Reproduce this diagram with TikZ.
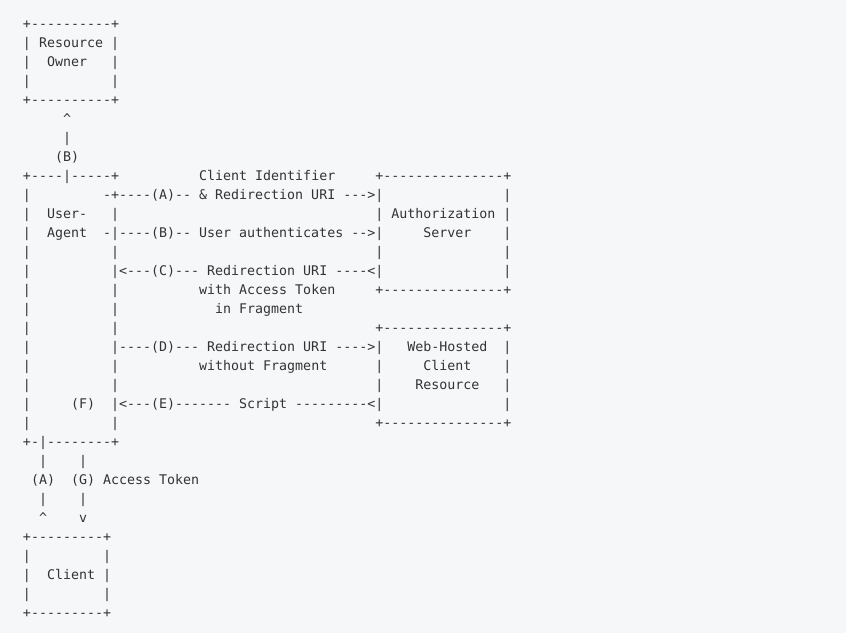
\documentclass[tikz,border=0pt]{standalone}
\usepackage{fontspec}
\setmonofont{DejaVu Sans Mono}
\definecolor{bg}{HTML}{F6F7F9}
\definecolor{ink}{HTML}{333333}
\newcommand\bl[1]{\hspace*{#1\fontcharwd\font`\x}}
\begin{document}
\begin{tikzpicture}[x=1pt,y=-1pt,
  ascii/.style={anchor=base west,inner sep=0pt,outer sep=0pt,text=ink,
    font=\ttfamily\fontsize{13.3pt}{19pt}\selectfont}]
\fill[bg] (0,0) rectangle (846,633);
\useasboundingbox (0,0) rectangle (846,633);
\node[ascii] (l1)  at (23,28.5)  {+----------+};
\node[ascii] (l2)  at (23,47.5)  {|~Resource~|};
\node[ascii] (l3)  at (23,66.5)  {|\bl{2}Owner\bl{3}|};
\node[ascii] (l4)  at (23,85.5)  {|\bl{10}|};
\node[ascii] (l5)  at (23,104.5) {+----------+};
\node[ascii] (l6)  at (23,123.5) {\bl{5}\textasciicircum};
\node[ascii] (l7)  at (23,142.5) {\bl{5}|};
\node[ascii] (l8)  at (23,161.5) {\bl{4}(B)};
\node[ascii] (l9)  at (23,180.5) {+----|-----+\bl{10}Client~Identifier\bl{5}+---------------+};
\node[ascii] (l10) at (23,199.5) {|\bl{9}-+----(A)--~\&~Redirection~URI~--->|\bl{15}|};
\node[ascii] (l11) at (23,218.5) {|\bl{2}User-\bl{3}|\bl{32}|~Authorization~|};
\node[ascii] (l12) at (23,237.5) {|\bl{2}Agent\bl{2}-|----(B)--~User~authenticates~-->|\bl{5}Server\bl{4}|};
\node[ascii] (l13) at (23,256.5) {|\bl{10}|\bl{32}|\bl{15}|};
\node[ascii] (l14) at (23,275.5) {|\bl{10}|<---(C)---~Redirection~URI~----<|\bl{15}|};
\node[ascii] (l15) at (23,294.5) {|\bl{10}|\bl{10}with~Access~Token\bl{5}+---------------+};
\node[ascii] (l16) at (23,313.5) {|\bl{10}|\bl{12}in~Fragment};
\node[ascii] (l17) at (23,332.5) {|\bl{10}|\bl{32}+---------------+};
\node[ascii] (l18) at (23,351.5) {|\bl{10}|----(D)---~Redirection~URI~---->|\bl{3}Web-Hosted\bl{2}|};
\node[ascii] (l19) at (23,370.5) {|\bl{10}|\bl{10}without~Fragment\bl{6}|\bl{5}Client\bl{4}|};
\node[ascii] (l20) at (23,389.5) {|\bl{10}|\bl{32}|\bl{4}Resource\bl{3}|};
\node[ascii] (l21) at (23,408.5) {|\bl{5}(F)\bl{2}|<---(E)-------~Script~---------<|\bl{15}|};
\node[ascii] (l22) at (23,427.5) {|\bl{10}|\bl{32}+---------------+};
\node[ascii] (l23) at (23,446.5) {+-|--------+};
\node[ascii] (l24) at (23,465.5) {\bl{2}|\bl{4}|};
\node[ascii] (l25) at (23,484.5) {\bl{1}(A)\bl{2}(G)~Access~Token};
\node[ascii] (l26) at (23,503.5) {\bl{2}|\bl{4}|};
\node[ascii] (l27) at (23,522.5) {\bl{2}\textasciicircum\bl{4}v};
\node[ascii] (l28) at (23,541.5) {+---------+};
\node[ascii] (l29) at (23,560.5) {|\bl{9}|};
\node[ascii] (l30) at (23,579.5) {|\bl{2}Client~|};
\node[ascii] (l31) at (23,598.5) {|\bl{9}|};
\node[ascii] (l32) at (23,617.5) {+---------+};
\end{tikzpicture}
\end{document}
